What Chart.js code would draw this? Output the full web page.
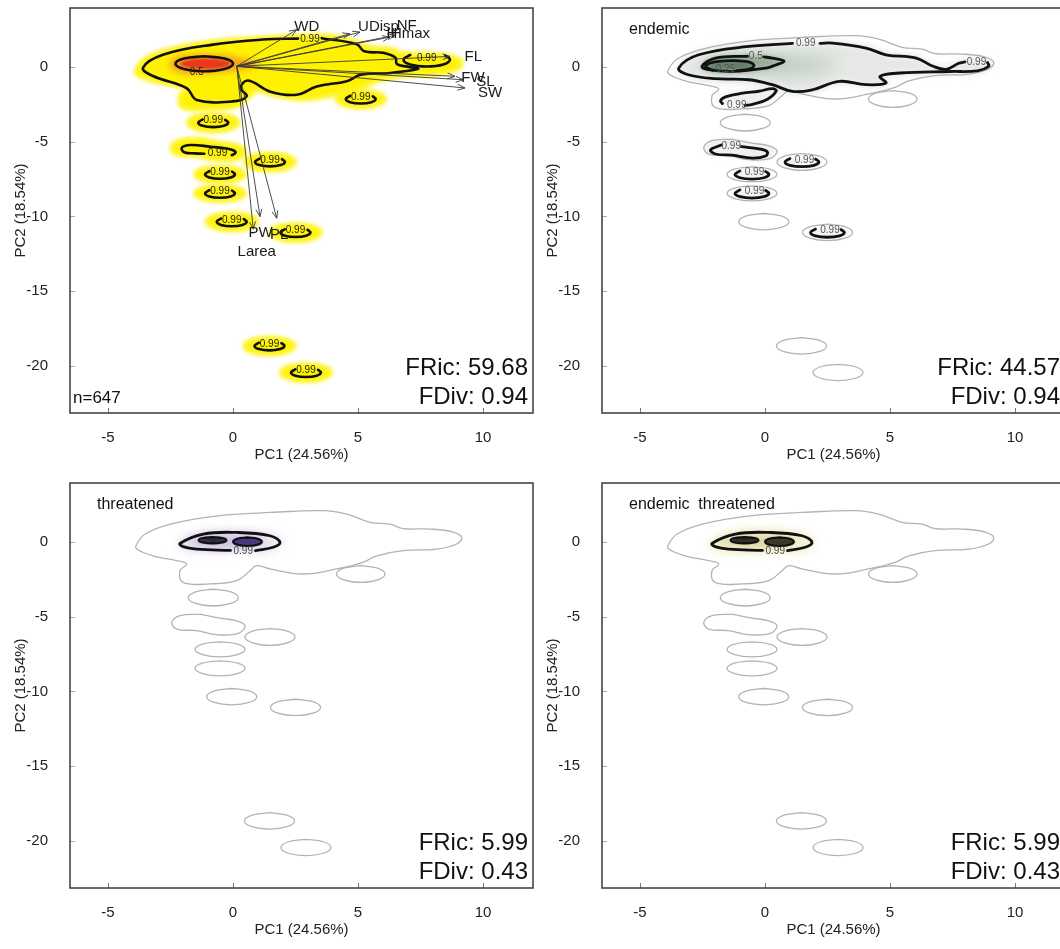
<!DOCTYPE html>
<html lang="en">
<head>
<meta charset="utf-8">
<title>Functional trait space (PCA)</title>
<script src="https://cdn.jsdelivr.net/npm/chart.js@4.4.1/dist/chart.umd.min.js"></script>
<style>
  html, body { margin: 0; padding: 0; background: #fff; width: 1060px; height: 949px; overflow: hidden; }
  .panel { position: absolute; width: 545px; height: 470px; }
</style>
</head>
<body>
<div class="panel" style="left:0;top:0"><canvas id="all" width="545" height="470"></canvas></div>
<div class="panel" style="left:532px;top:0"><canvas id="endemic" width="545" height="470"></canvas></div>
<div class="panel" style="left:0;top:475px"><canvas id="threatened" width="545" height="470"></canvas></div>
<div class="panel" style="left:532px;top:475px"><canvas id="endthr" width="545" height="470"></canvas></div>
<script>
const family = "'Liberation Sans', Arial, Helvetica, sans-serif";
Chart.defaults.font.family = family;
Chart.defaults.color = '#333';

// ---- PCA axes ----
const xRange = [-6.52, 12.0];
const yRange = [-23.15, 3.95];
const xTickValues = [-5, 0, 5, 10];
const yTickValues = [-20, -15, -10, -5, 0];
const xTitle = 'PC1 (24.56%)';
const yTitle = 'PC2 (18.54%)';

// ---- panel statistics ----
const panelNames = ['', 'endemic', 'threatened', 'endemic  threatened'];
const fricValues = ['59.68', '44.57', '5.99', '5.99'];
const fdivValues = ['0.94', '0.94', '0.43', '0.43'];
const speciesCount = 'n=647';

// ---- 0.99 contour of all species (outer envelope) ----
const grayMain = [[1.48,1.98],[3.6,2.1],[4.55,1.87],[5.48,1.32],[6.28,1.2],[6.8,0.9],[7.88,0.87],[8.8,0.67],[9.15,0.31],[8.95,-0.13],[8.15,-0.47],[6.8,-0.58],[5.75,-0.92],[5.2,-1.36],[4.15,-1.8],[2.8,-2.14],[1.48,-1.8],[0.95,-1.58],[0.68,-1.92],[0.15,-2.59],[-0.92,-2.8],[-2.0,-2.7],[-2.12,-1.92],[-1.85,-1.47],[-2.25,-1.25],[-3.2,-0.92],[-3.85,-0.47],[-3.85,-0.13],[-3.5,0.55],[-2.5,1.2],[-0.52,1.76],[1.48,1.98]];
const grayPeanut = [[-1.32,-4.82],[-0.52,-5.09],[0.15,-5.27],[0.48,-5.6],[0.21,-6.11],[-0.65,-6.2],[-1.45,-5.93],[-2.25,-5.82],[-2.45,-5.38],[-2.12,-4.93],[-1.32,-4.82]];
// small islands: [centre x, centre y, half-width, half-height]
const islandRings = [
  [5.11, -2.14, 0.97, 0.56],
  [-0.79, -3.72, 1.0, 0.56],
  [1.48, -6.35, 1.0, 0.56],
  [-0.52, -7.18, 1.0, 0.5],
  [-0.52, -8.45, 1.0, 0.5],
  [-0.05, -10.35, 1.0, 0.55],
  [2.5, -11.07, 1.0, 0.55],
  [1.46, -18.66, 1.0, 0.55],
  [2.92, -20.44, 1.0, 0.55]
];

// ---- all species: density levels ----
const p1Main = [[3.55,1.93],[4.95,1.52],[5.25,1.05],[6.0,0.95],[6.5,0.62],[6.55,0.2],[7.0,0.02],[7.4,-0.12],[6.3,-0.4],[5.1,-0.52],[4.55,-0.95],[3.35,-1.3],[2.55,-1.85],[1.5,-1.65],[0.6,-0.9],[0.3,-1.4],[0.55,-1.95],[0.0,-2.3],[-1.45,-2.2],[-1.85,-1.42],[-3.2,-0.6],[-3.6,-0.05],[-2.8,0.82],[-0.8,1.5],[1.2,1.84],[2.6,1.9]];
const p1Peanut = [[-0.05,-5.9],[0.1,-5.75],[0.05,-5.6],[-0.25,-5.45],[-0.9,-5.33],[-1.7,-5.22],[-2.05,-5.4],[-1.95,-5.7],[-1.5,-5.78],[-1.15,-5.8]];
const p1FlLoop = [7.75, 0.49, 0.93, 0.45];
const p1HalfRing = [-1.15, 0.22, 1.15, 0.5];
const p1Orange = [[-1.4,0.85],[-0.3,0.78],[0.5,0.5],[1.05,0.2],[0.5,-0.12],[-0.3,-0.32],[-1.3,-0.45],[-2.2,-0.35],[-2.55,0.15],[-2.25,0.65],[-1.4,0.85]];
const p1RedCore = [-1.1, 0.22, 1.0, 0.36];
const p1LevelLabels = [['0.99', 3.08, 1.86], ['0.99', 7.75, 0.62], ['0.5', -1.45, -0.36], ['0.99', -0.62, -5.8]];

// ---- trait loadings ----
const loadingOrigin = [0.15, 0.05];
const loadingNames = ['WD', 'UDisp', 'NF', 'H', 'Hmax', 'FL', 'FW', 'SL', 'SW', 'PW', 'PL', 'Larea'];
const loadingTips = [[2.55,2.5],[4.68,2.23],[5.08,2.34],[6.28,2.0],[6.48,2.12],[8.68,0.71],[8.88,-0.62],[9.21,-0.85],[9.28,-1.4],[1.08,-10.01],[1.75,-10.12],[0.81,-10.85]];
const loadingLabelPos = [[2.95,2.72],[5.82,2.68],[6.95,2.74],[6.36,2.25],[7.1,2.23],[9.61,0.71],[9.6,-0.7],[10.1,-1.0],[10.28,-1.72],[1.1,-11.12],[1.85,-11.2],[0.95,-12.35]];

// ---- endemic species ----
const p2MainA = [[2.2,1.58],[2.7,1.6],[4.04,1.27],[4.84,0.82],[6.05,0.6],[6.72,0.05],[7.25,-0.15],[7.75,0.25],[8.0,0.35]];
const p2MainB = [[8.9,0.3],[8.95,0.05],[8.5,-0.25],[7.4,-0.3],[5.4,-0.4],[4.6,-0.62],[4.84,-1.07],[4.04,-1.18],[2.97,-0.96],[1.9,-1.52],[1.1,-1.63],[0.29,-1.18],[-0.64,-0.85],[-2.0,-0.78],[-3.1,-0.5],[-3.45,-0.07],[-2.65,0.82],[-0.64,1.38],[1.1,1.58]];
const p2Lobe = [[-0.8,-2.57],[-0.5,-2.5],[0.1,-2.15],[0.45,-1.6],[0.3,-1.45],[-0.25,-1.62],[-0.9,-1.75],[-1.55,-1.98],[-1.78,-2.25],[-1.7,-2.45]];
const p2Peanut = [[-0.95,-5.32],[-0.24,-5.48],[0.09,-5.67],[0.03,-5.95],[-0.51,-6.1],[-1.31,-5.9],[-1.98,-5.82],[-2.18,-5.55],[-1.75,-5.22]];
const p2Half = [[-0.05,0.68],[0.29,0.6],[0.76,0.4],[0.4,0.12],[0.03,-0.07],[-1.31,-0.29],[-2.25,-0.18],[-2.52,0.05],[-1.98,0.6],[-0.7,0.72]];
const p2Quarter = [[-1.1,-0.24],[-0.6,-0.12],[-0.44,0.12],[-0.78,0.38],[-1.85,0.38],[-2.38,0.08],[-2.1,-0.22]];
const p2Haze = [0.15, 0.15, 2.75, 0.62];
const p2HookIslands = [2, 3, 4, 6];
const p2LevelLabels = [['0.99', 1.63, 1.56], ['0.99', 8.46, 0.32], ['0.99', -1.13, -2.55], ['0.99', -1.35, -5.27], ['0.5', -0.37, 0.72], ['0.25', -1.58, -0.14]];

// ---- threatened species (same shapes in both lower panels) ----
const p3Outer = [[0.9,-0.58],[1.61,-0.35],[1.88,-0.02],[1.48,0.42],[0.15,0.64],[-1.19,0.53],[-2.12,-0.09],[-1.99,-0.31],[-1.45,-0.47],[-0.1,-0.56]];
const p3Mid = [-0.3, 0.06, 1.55, 0.4];
const p3RightBlob = [0.58, 0.02, 0.57, 0.28];
const p3LeftBlob = [-0.82, 0.12, 0.55, 0.2];
const p3LevelLabels = [['0.99', 0.41, -0.6]];

// ---- shape templates ----
const ringT = [[0,1],[0.7,0.7],[1,0],[0.7,-0.7],[0,-1],[-0.7,-0.7],[-1,0],[-0.7,0.7],[0,1]];
const hookT = [[-0.71,0.71],[-1,0],[-0.71,-0.71],[0,-1],[0.71,-0.71],[1,0],[0.8,0.6]];

const toPts = list => list.map(([x, y]) => ({x, y}));
const fromTemplate = (t, [cx, cy, rx, ry]) => t.map(([u, v]) => ({x: cx + u * rx, y: cy + v * ry}));

function area(data, color, soft, edge) {
  return {data, backgroundColor: color, borderColor: color, borderWidth: edge || 0, fill: 'shape', tension: 0.4, soft};
}
function line(data, color, width) {
  return {data, borderColor: color, borderWidth: width, fill: false, tension: 0.4, borderCapStyle: 'round', borderJoinStyle: 'round'};
}
function arrow(tip) {
  return {data: toPts([loadingOrigin, tip]), borderColor: '#3a3a3a', borderWidth: 0.9, fill: false, tension: 0, arrow: true};
}
const grayShapes = () => [toPts(grayMain), toPts(grayPeanut), ...islandRings.map(r => fromTemplate(ringT, r))];

// blur for density fills: the filter must be active before the filler paints a dataset
function applySoft(chart, idx) {
  const ds = idx === undefined ? null : chart.data.datasets[idx];
  chart.ctx.filter = ds && ds.soft ? `blur(${ds.soft}px)` : 'none';
}
const softEdges = {
  id: 'softEdges',
  beforeDatasetsDraw(chart) {
    chart.$drawOrder = chart.getSortedVisibleDatasetMetas().map(m => m.index).reverse();
    applySoft(chart, chart.$drawOrder[0]);
  },
  afterDatasetDraw(chart, args) {
    const order = chart.$drawOrder;
    applySoft(chart, order[order.indexOf(args.index) + 1]);
  },
  afterDatasetsDraw(chart) { chart.ctx.filter = 'none'; }
};

function makeDecor(cfg) {
  return {
    id: 'decor',
    afterDatasetsDraw(chart) {
      const {ctx, scales: {x, y}} = chart;
      ctx.save();
      ctx.filter = 'none';
      chart.data.datasets.forEach((ds, i) => {
        if (!ds.arrow) return;
        const pts = chart.getDatasetMeta(i).data;
        const a = pts[0], b = pts[pts.length - 1];
        const ang = Math.atan2(b.y - a.y, b.x - a.x);
        const len = 8, spread = 0.38;
        ctx.beginPath();
        ctx.moveTo(b.x - len * Math.cos(ang - spread), b.y - len * Math.sin(ang - spread));
        ctx.lineTo(b.x, b.y);
        ctx.lineTo(b.x - len * Math.cos(ang + spread), b.y - len * Math.sin(ang + spread));
        ctx.strokeStyle = ds.borderColor;
        ctx.lineWidth = 0.9;
        ctx.stroke();
      });
      ctx.textAlign = 'center';
      ctx.textBaseline = 'middle';
      cfg.marks.forEach(m => {
        ctx.font = `${m.size}px ${family}`;
        ctx.fillStyle = m.color;
        ctx.fillText(m.text, x.getPixelForValue(m.x), y.getPixelForValue(m.y));
      });
      ctx.restore();
    },
    afterDraw(chart) {
      const {ctx, chartArea: a, scales: {x, y}} = chart;
      ctx.save();
      ctx.filter = 'none';
      // inner tick marks
      ctx.lineWidth = 1;
      ctx.strokeStyle = '#777';
      xTickValues.forEach(v => {
        const px = Math.round(x.getPixelForValue(v)) + 0.5;
        ctx.beginPath(); ctx.moveTo(px, a.bottom); ctx.lineTo(px, a.bottom - 5); ctx.stroke();
      });
      ctx.strokeStyle = '#aaa';
      yTickValues.forEach(v => {
        const py = Math.round(y.getPixelForValue(v)) + 0.5;
        ctx.beginPath(); ctx.moveTo(a.left, py); ctx.lineTo(a.left + 5, py); ctx.stroke();
      });
      // frame
      ctx.strokeStyle = '#3a3a3a';
      ctx.lineWidth = 1.5;
      ctx.strokeRect(a.left, a.top, a.right - a.left, a.bottom - a.top);
      // panel texts
      ctx.fillStyle = '#111';
      ctx.textBaseline = 'alphabetic';
      if (cfg.name) {
        ctx.font = `16px ${family}`;
        ctx.textAlign = 'left';
        ctx.fillText(cfg.name, a.left + 27, a.top + 26);
      }
      if (cfg.count) {
        ctx.font = `17px ${family}`;
        ctx.textAlign = 'left';
        ctx.fillText(cfg.count, a.left + 3, a.bottom - 10);
      }
      ctx.font = `24px ${family}`;
      ctx.textAlign = 'right';
      ctx.fillText('FRic: ' + cfg.fric, a.right - 5, a.bottom - 38);
      ctx.fillText('FDiv: ' + cfg.fdiv, a.right - 5, a.bottom - 9);
      ctx.restore();
    }
  };
}

function buildChart(id, cfg) {
  const datasets = cfg.layers;
  const n = datasets.length;
  datasets.forEach((d, i) => { d.order = n - i; d.pointRadius = 0; d.pointHoverRadius = 0; });
  return new Chart(document.getElementById(id), {
    type: 'line',
    data: {datasets},
    options: {
      responsive: false,
      animation: false,
      events: [],
      layout: {padding: {top: 8, right: 12, left: 0, bottom: 0}},
      plugins: {legend: {display: false}, tooltip: {enabled: false}},
      elements: {point: {radius: 0, hitRadius: 0, hoverRadius: 0}},
      scales: {
        x: {
          type: 'linear', min: xRange[0], max: xRange[1],
          afterBuildTicks: s => { s.ticks = xTickValues.map(value => ({value})); },
          afterFit: s => { s.height = 57; s.paddingLeft = 0; s.paddingRight = 0; },
          grid: {display: false, drawTicks: false},
          border: {display: false},
          ticks: {padding: 16, font: {size: 15}, color: '#222', maxRotation: 0, autoSkip: false},
          title: {display: true, text: xTitle, font: {size: 15}, color: '#222', padding: {top: 0, bottom: 6}}
        },
        y: {
          type: 'linear', min: yRange[0], max: yRange[1],
          afterBuildTicks: s => { s.ticks = yTickValues.map(value => ({value})); },
          afterFit: s => { s.width = 70; s.paddingTop = 0; s.paddingBottom = 0; },
          grid: {display: false, drawTicks: false},
          border: {display: false},
          ticks: {padding: 22, font: {size: 15}, color: '#222', autoSkip: false},
          title: {display: true, text: yTitle, font: {size: 15}, color: '#222', padding: {top: 12, bottom: 0}}
        }
      }
    },
    plugins: [softEdges, makeDecor(cfg)]
  });
}

const levelMarks = (rows, color) => rows.map(([text, x, y]) => ({text, x, y, size: 10, color}));
const hookMarks = (idx, dx, color) => idx.map(i => ({text: '0.99', x: islandRings[i][0] + dx, y: islandRings[i][1] + 0.13, size: 10, color}));
const allIslands = islandRings.map((_, i) => i);

// ---- panel 1: all species ----
buildChart('all', {
  name: panelNames[0], count: speciesCount, fric: fricValues[0], fdiv: fdivValues[0],
  layers: [
    ...grayShapes().map(s => area(s, '#fff200', 2, 3)),
    area(toPts(p1Orange), '#f6a01c', 3),
    area(fromTemplate(ringT, p1RedCore), '#e8391b', 1.2),
    line(toPts(p1Main), '#111', 2.6),
    line(fromTemplate(hookT, p1FlLoop), '#111', 2.6),
    line(fromTemplate(ringT, p1HalfRing), '#111', 2.6),
    line(toPts(p1Peanut), '#111', 2.6),
    ...islandRings.map(([cx, cy]) => line(fromTemplate(hookT, [cx, cy, 0.6, 0.3]), '#111', 2.6)),
    ...loadingTips.map(arrow)
  ],
  marks: [
    ...levelMarks(p1LevelLabels, '#222'),
    ...hookMarks(allIslands, 0, '#222'),
    ...loadingNames.map((text, i) => ({text, x: loadingLabelPos[i][0], y: loadingLabelPos[i][1], size: 15, color: '#1a1a1a'}))
  ]
});

// ---- panel 2: endemic ----
buildChart('endemic', {
  name: panelNames[1], fric: fricValues[1], fdiv: fdivValues[1],
  layers: [
    area(toPts([...p2MainA, ...p2MainB]), '#e6e9e6', 3, 5),
    area(toPts(p2Lobe), '#eceeec', 3, 4),
    area(toPts(grayPeanut), '#f0f0f0', 2, 0),
    ...p2HookIslands.map(i => area(fromTemplate(ringT, [islandRings[i][0], islandRings[i][1], 0.8, 0.4]), '#f3f3f3', 2, 0)),
    area(fromTemplate(ringT, p2Haze), 'rgba(125,155,125,0.42)', 9),
    area(toPts(p2Half), '#95aa95', 3),
    area(toPts(p2Quarter), '#607f66', 2),
    ...grayShapes().map(s => line(s, '#b3b3b3', 1.3)),
    line(toPts(p2MainA), '#111', 2.8),
    line(toPts(p2MainB), '#111', 2.8),
    line(toPts(p2Lobe), '#111', 2.8),
    line(toPts(p2Half), '#111', 2.8),
    line(toPts(p2Quarter), '#111', 2.6),
    line(toPts(p2Peanut), '#111', 2.8),
    ...p2HookIslands.map(i => line(fromTemplate(hookT, [islandRings[i][0], islandRings[i][1], 0.68, 0.32]), '#111', 2.8))
  ],
  marks: [...levelMarks(p2LevelLabels, '#555'), ...hookMarks(p2HookIslands, 0.1, '#555')]
});

// ---- panels 3 and 4: threatened / endemic threatened ----
function lowerLayers(light, mid, darkRight, darkLeft) {
  return [
    ...grayShapes().map(s => line(s, '#b3b3b3', 1.3)),
    area(toPts(p3Outer), light, 4, 6),
    area(fromTemplate(ringT, p3Mid), mid, 5),
    area(fromTemplate(ringT, p3RightBlob), darkRight, 1),
    area(fromTemplate(ringT, p3LeftBlob), darkLeft, 1),
    line(toPts(p3Outer), '#111', 2.8),
    line(fromTemplate(ringT, p3RightBlob), '#111', 2.4),
    line(fromTemplate(ringT, p3LeftBlob), '#111', 2.4)
  ];
}
buildChart('threatened', {
  name: panelNames[2], fric: fricValues[2], fdiv: fdivValues[2],
  layers: lowerLayers('#ebe5f3', '#c8bade', '#4a3680', '#2d2345'),
  marks: levelMarks(p3LevelLabels, '#444')
});
buildChart('endthr', {
  name: panelNames[3], fric: fricValues[3], fdiv: fdivValues[3],
  layers: lowerLayers('#f3efcc', '#d9d2a0', '#3b3822', '#2a281a'),
  marks: levelMarks(p3LevelLabels, '#444')
});
</script>
</body>
</html>
